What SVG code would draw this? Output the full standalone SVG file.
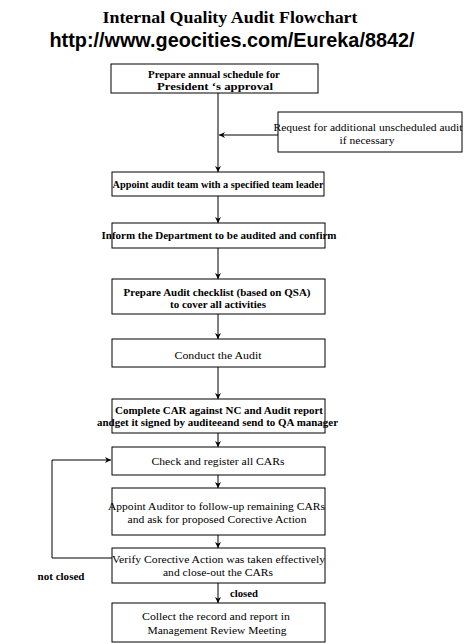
<svg xmlns="http://www.w3.org/2000/svg" width="468" height="644" viewBox="0 0 468 644">
<defs>
<marker id="ah" viewBox="0 0 10 10" refX="10" refY="5" markerWidth="6" markerHeight="6" orient="auto" markerUnits="userSpaceOnUse">
<path d="M0,0 L10,5 L0,10 L3,5 z" fill="#000"/>
</marker>
<style>
.box{fill:#fff;stroke:#000;stroke-width:1}
.t{font-family:"Liberation Serif","Times New Roman",serif;font-size:10.5px;fill:#000;text-anchor:middle}
.b{font-weight:bold}
.c{stroke:#000;stroke-width:1;fill:none}
.ca{stroke:#000;stroke-width:1;fill:none;marker-end:url(#ah)}
</style>
</defs>
<rect width="468" height="644" fill="#fff"/>
<text x="230" y="23" font-family="Liberation Serif,serif" font-weight="bold" font-size="16.5" text-anchor="middle" textLength="255" lengthAdjust="spacingAndGlyphs">Internal Quality Audit Flowchart</text>
<text x="232" y="47" font-family="Liberation Sans,Arial,sans-serif" font-weight="bold" font-size="20" text-anchor="middle" textLength="365" lengthAdjust="spacingAndGlyphs">http://www.geocities.com/Eureka/8842/</text>

<g id="connectors">
<line class="ca" x1="218" y1="93" x2="218" y2="172"/>
<line class="ca" x1="278" y1="135" x2="219" y2="135"/>
<line class="ca" x1="218" y1="196" x2="218" y2="223"/>
<line class="ca" x1="218" y1="248" x2="218" y2="279"/>
<line class="ca" x1="218" y1="314" x2="218" y2="339"/>
<line class="ca" x1="218" y1="367" x2="218" y2="399"/>
<line class="ca" x1="218" y1="433" x2="218" y2="447"/>
<line class="ca" x1="218" y1="475" x2="218" y2="488"/>
<line class="ca" x1="218" y1="535" x2="218" y2="548"/>
<line class="ca" x1="218" y1="583" x2="218" y2="603"/>
<polyline class="ca" points="112,558 52,558 52,460 111,460"/>
<text class="t b" x="61" y="580" textLength="47" lengthAdjust="spacingAndGlyphs">not closed</text>
<text class="t b" x="244" y="597" textLength="28" lengthAdjust="spacingAndGlyphs">closed</text>
</g>

<g id="n1"><rect class="box" x="111" y="64" width="207" height="29"/>
<text class="t b" x="214" y="78" textLength="132" lengthAdjust="spacingAndGlyphs">Prepare annual schedule for</text>
<text class="t b" x="215" y="90" textLength="116" lengthAdjust="spacingAndGlyphs">President ‘s approval</text></g>

<g id="n2"><rect class="box" x="278" y="112" width="184" height="40"/>
<text class="t" x="368" y="131" textLength="189" lengthAdjust="spacingAndGlyphs">Request for additional unscheduled audit</text>
<text class="t" x="367" y="144" textLength="55" lengthAdjust="spacingAndGlyphs">if necessary</text></g>

<g id="n3"><rect class="box" x="112" y="172" width="212" height="24"/>
<text class="t b" x="218" y="188" textLength="211" lengthAdjust="spacingAndGlyphs">Appoint audit team with a specified team leader</text></g>

<g id="n4"><rect class="box" x="112" y="223" width="213" height="25"/>
<text class="t b" x="219" y="239" textLength="235" lengthAdjust="spacingAndGlyphs">Inform the Department to be audited and confirm</text></g>

<g id="n5"><rect class="box" x="112" y="279" width="213" height="35"/>
<text class="t b" x="217" y="296" textLength="187" lengthAdjust="spacingAndGlyphs">Prepare Audit checklist (based on QSA)</text>
<text class="t b" x="218" y="308" textLength="96" lengthAdjust="spacingAndGlyphs">to cover all activities</text></g>

<g id="n6"><rect class="box" x="112" y="339" width="213" height="28"/>
<text class="t" x="218" y="359" textLength="87" lengthAdjust="spacingAndGlyphs">Conduct the Audit</text></g>

<g id="n7"><rect class="box" x="112" y="399" width="213" height="34"/>
<text class="t b" x="219" y="414" textLength="208" lengthAdjust="spacingAndGlyphs">Complete CAR against NC and Audit report</text>
<text class="t b" x="217.5" y="426" textLength="241" lengthAdjust="spacingAndGlyphs">andget it signed by auditeeand send to QA manager</text></g>

<g id="n8"><rect class="box" x="112" y="447" width="213" height="28"/>
<text class="t" x="218" y="465" textLength="133" lengthAdjust="spacingAndGlyphs">Check and register all CARs</text></g>

<g id="n9"><rect class="box" x="112" y="488" width="213" height="47"/>
<text class="t" x="216.5" y="510" textLength="217" lengthAdjust="spacingAndGlyphs">Appoint Auditor to follow-up remaining CARs</text>
<text class="t" x="217" y="523" textLength="179" lengthAdjust="spacingAndGlyphs">and ask for proposed Corective Action</text></g>

<g id="n10"><rect class="box" x="112" y="548" width="213" height="35"/>
<text class="t" x="218.5" y="563" textLength="213" lengthAdjust="spacingAndGlyphs">Verify Corective Action was taken effectively</text>
<text class="t" x="218" y="576" textLength="110" lengthAdjust="spacingAndGlyphs">and close-out the CARs</text></g>

<g id="n11"><rect class="box" x="112" y="603" width="213" height="39"/>
<text class="t" x="216" y="620" textLength="148" lengthAdjust="spacingAndGlyphs">Collect the record and report in</text>
<text class="t" x="217" y="634" textLength="139" lengthAdjust="spacingAndGlyphs">Management Review Meeting</text></g>
</svg>
